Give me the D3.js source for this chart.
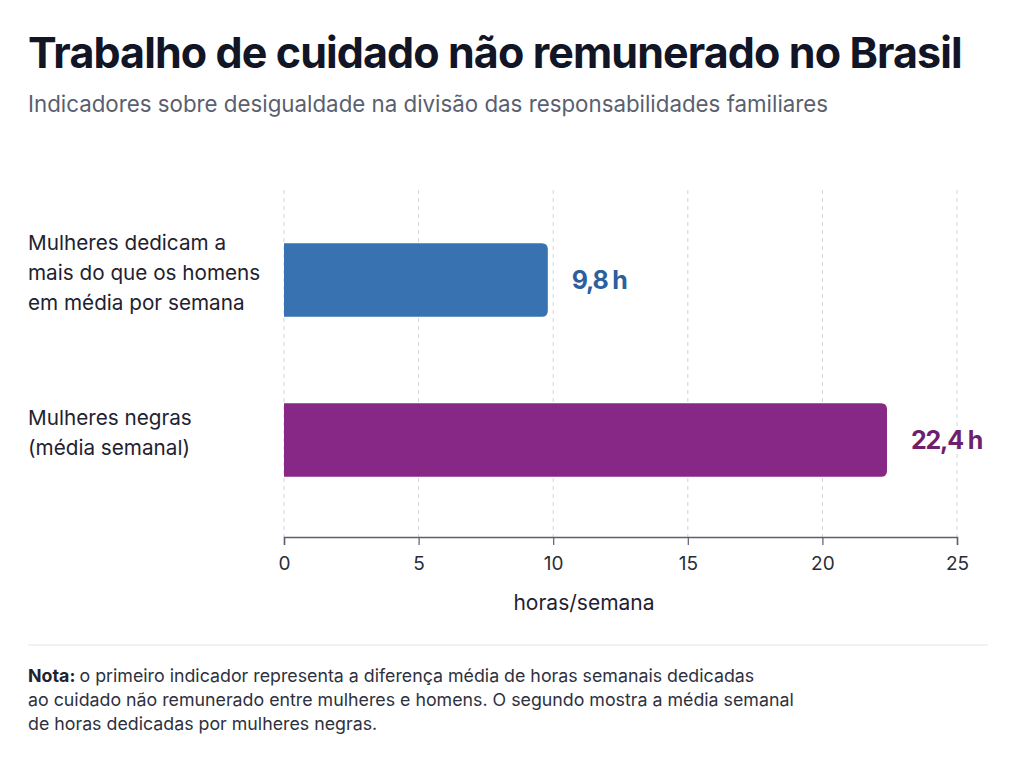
<!DOCTYPE html>
<html>
<head>
<meta charset="utf-8">
<script src="https://cdn.jsdelivr.net/npm/d3@7"></script>
<style>
  body { margin: 0; background: #fff; }
  svg { display: block; font-family: Inter, "Noto Sans", sans-serif; }
  .title { font-size: 43px; font-weight: 700; fill: #111525; letter-spacing: -0.9px; }
  .subtitle { font-size: 22.3px; fill: #5a5f70; }
  .cat { font-size: 20.7px; fill: #1f2230; }
  .tick text { font-size: 19px; fill: #2a2d38; }
  .axis-title { font-size: 21px; fill: #1f2230; }
  .value { font-size: 25px; font-weight: 700; letter-spacing: -1.2px; }
  .note { font-size: 17.8px; fill: #2e3140; }
</style>
</head>
<body>
<svg id="chart" width="1024" height="768"></svg>
<script>
// data
var categories = [
  ["Mulheres dedicam a", "mais do que os homens", "em média por semana"],
  ["Mulheres negras", "(média semanal)"]
];
var values = [9.8, 22.4];
var valueLabels = ["9,8 h", "22,4 h"];
var barColors = ["#3872b1", "#872786"];
var labelColors = ["#2d5e9e", "#6e1f6e"];
var xTicks = [0, 5, 10, 15, 20, 25];
var noteLines = [
  "o primeiro indicador representa a diferença média de horas semanais dedicadas",
  "ao cuidado não remunerado entre mulheres e homens. O segundo mostra a média semanal",
  "de horas dedicadas por mulheres negras."
];

var svg = d3.select("#chart");

svg.append("text").attr("class", "title")
  .attr("x", 28).attr("y", 68)
  .text("Trabalho de cuidado não remunerado no Brasil");

svg.append("text").attr("class", "subtitle")
  .attr("x", 28).attr("y", 112)
  .text("Indicadores sobre desigualdade na divisão das responsabilidades familiares");

var plotLeft = 284, plotRight = 957, plotTop = 190, plotBottom = 537;

var x = d3.scaleLinear().domain([0, 25]).range([plotLeft, plotRight]);
var y = d3.scaleBand().domain(d3.range(values.length))
  .range([200, 520]).paddingInner(0.54).paddingOuter(0.27);

// grid
svg.append("g").selectAll("line")
  .data(xTicks)
  .join("line")
    .attr("x1", function(d) { return x(d); })
    .attr("x2", function(d) { return x(d); })
    .attr("y1", plotTop).attr("y2", plotBottom)
    .attr("stroke", "#d2d4da")
    .attr("stroke-dasharray", "4,4");

// axis
var axis = svg.append("g")
  .attr("transform", "translate(0," + plotBottom + ")")
  .call(d3.axisBottom(x).tickValues(xTicks).tickSize(8).tickPadding(12));
axis.select(".domain").attr("stroke", "#5b5f6e").attr("stroke-width", 1.5);
axis.selectAll(".tick line").attr("stroke", "#5b5f6e").attr("stroke-width", 1.2);
axis.attr("font-family", null).attr("font-size", null);

svg.append("text").attr("class", "axis-title")
  .attr("x", 584).attr("y", 610)
  .attr("text-anchor", "middle")
  .text("horas/semana");

// bars with rounded right end
var r = 6;
svg.append("g").selectAll("path")
  .data(values)
  .join("path")
    .attr("fill", function(d, i) { return barColors[i]; })
    .attr("d", function(d, i) {
      var x0 = x(0), x1 = x(d), y0 = y(i), h = y.bandwidth();
      return "M" + x0 + "," + y0 +
        "H" + (x1 - r) +
        "Q" + x1 + "," + y0 + " " + x1 + "," + (y0 + r) +
        "V" + (y0 + h - r) +
        "Q" + x1 + "," + (y0 + h) + " " + (x1 - r) + "," + (y0 + h) +
        "H" + x0 + "Z";
    });

svg.append("g").selectAll("text")
  .data(values)
  .join("text")
    .attr("class", "value")
    .attr("x", function(d) { return x(d) + 24; })
    .attr("y", function(d, i) { return y(i) + y.bandwidth() / 2; })
    .attr("dy", "0.35em")
    .attr("fill", function(d, i) { return labelColors[i]; })
    .text(function(d, i) { return valueLabels[i]; });

// category labels
var lineH = 30;
svg.append("g").selectAll("text")
  .data(categories)
  .join("text")
    .attr("class", "cat")
    .attr("x", 28)
    .attr("y", function(d, i) {
      return y(i) + y.bandwidth() / 2 - (d.length - 1) * lineH / 2;
    })
    .attr("dy", "0.35em")
    .each(function(d) {
      d3.select(this).selectAll("tspan")
        .data(d)
        .join("tspan")
          .attr("x", 28)
          .attr("dy", function(t, j) { return j ? lineH : 0; })
          .text(function(t) { return t; });
    });

// separator and note
svg.append("line")
  .attr("x1", 28).attr("x2", 988)
  .attr("y1", 645).attr("y2", 645)
  .attr("stroke", "#e3e4e8");

var note = svg.append("text").attr("class", "note").attr("x", 28).attr("y", 682);
noteLines.forEach(function(t, i) {
  var line = note.append("tspan").attr("x", 28).attr("dy", i ? 24 : 0);
  if (i === 0) {
    line.append("tspan").attr("font-weight", 700).attr("fill", "#1f2230").text("Nota: ");
    line.append("tspan").text(t);
  } else {
    line.text(t);
  }
});
</script>
</body>
</html>
